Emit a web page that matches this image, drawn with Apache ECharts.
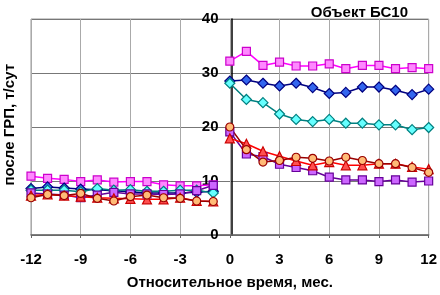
<!DOCTYPE html>
<html lang="ru">
<head>
    <meta charset="UTF-8">
    <title>Объект БС10</title>
    <style>
        html, body { margin: 0; padding: 0; background: #fff; }
    </style>
</head>
<body>
<script src="https://cdn.jsdelivr.net/npm/echarts@6/dist/echarts.min.js"></script>
<div id="main" style="width: 440px;height:295px;"></div>

<script>
    // месяцы до и после ГРП
    var preX = [-12, -11, -10, -9, -8, -7, -6, -5, -4, -3, -2, -1];
    var postX = [0, 1, 2, 3, 4, 5, 6, 7, 8, 9, 10, 11, 12];

    var pinkPre = [10.9, 10.5, 10.3, 9.9, 10.2, 9.8, 9.9, 9.9, 9.3, 9.1, 9.1, 9.3];
    var pinkPost = [32.2, 34.0, 31.4, 32.0, 31.3, 31.3, 31.7, 30.8, 31.4, 31.4, 30.8, 31.0, 30.8];

    var bluePre = [8.6, 8.9, 8.7, 8.5, 8.4, 8.2, 8.0, 7.8, 7.8, 7.8, 7.9, 8.1];
    var bluePost = [28.5, 28.7, 28.1, 27.6, 28.1, 27.3, 26.2, 26.4, 27.4, 27.4, 26.8, 26.0, 27.0];

    var tealPre = [8.3, 8.3, 8.3, 8.0, 8.6, 8.3, 8.4, 8.1, 8.1, 8.3, 8.3, 7.8];
    var tealPost = [28.1, 25.1, 24.5, 22.4, 21.4, 21.0, 21.4, 20.7, 20.7, 20.4, 20.4, 19.5, 19.9];

    var purplePre = [7.8, 7.6, 7.4, 6.9, 7.4, 7.9, 7.6, 7.6, 7.5, 7.6, 8.2, 9.2];
    var purplePost = [19.1, 15.0, 14.5, 13.1, 12.5, 11.9, 10.7, 10.2, 10.2, 9.9, 10.2, 9.8, 10.0];

    var orangePre = [6.9, 7.5, 7.3, 7.7, 6.8, 6.3, 7.1, 7.4, 6.9, 6.8, 6.3, 6.2];
    var orangePost = [20.0, 15.8, 13.5, 13.8, 14.4, 14.2, 13.7, 14.4, 13.8, 13.2, 13.2, 12.5, 11.6];

    var redPre = [7.3, 7.5, 7.3, 7.1, 6.9, 6.8, 6.7, 6.6, 6.6, 6.9, 6.3, 6.2];
    var redPost = [17.9, 16.9, 15.5, 14.6, 13.7, 12.9, 13.5, 12.9, 12.9, 13.2, 13.2, 12.6, 12.2];

    var xTicks = [-12, -9, -6, -3, 0, 3, 6, 9, 12];
    var yTicks = [0, 10, 20, 30, 40];

    function pairs(pre, post) {
        var d = [];
        for (var i = 0; i < preX.length; i++) d.push([preX[i], pre[i]]);
        d.push([-0.5, '-']); // разрыв между периодами
        for (var j = 0; j < postX.length; j++) d.push([postX[j], post[j]]);
        return d;
    }

    function line(name, pre, post, symbol, size, lineColor, fill, border) {
        return {
            name: name,
            type: 'line',
            data: pairs(pre, post),
            symbol: symbol,
            symbolSize: size,
            showAllSymbol: true,
            connectNulls: false,
            lineStyle: { color: lineColor, width: 1.5 },
            itemStyle: { color: fill, borderColor: border, borderWidth: 1.2 },
            emphasis: { disabled: true }
        };
    }

    var gridLeft = 31, gridRight = 8;
    var plotW = 440 - gridLeft - gridRight;

    var myChart = echarts.init(document.getElementById('main'));

    var option = {
        animation: false,
        textStyle: { fontFamily: 'Liberation Sans, Arial, sans-serif' },
        title: {
            text: 'Объект БС10',
            right: 27,
            top: 0,
            textStyle: { fontSize: 15, fontWeight: 'bold', color: '#000' }
        },
        graphic: [{
            type: 'text',
            left: 2,
            top: 64,
            rotation: Math.PI / 2,
            style: {
                text: 'после ГРП, т/сут',
                font: 'bold 15px Liberation Sans, Arial, sans-serif',
                fill: '#000'
            }
        }],
        grid: { left: gridLeft, right: gridRight, top: 19, bottom: 54, show: true, borderColor: '#999', borderWidth: 1 },
        xAxis: {
            type: 'value',
            min: -12,
            max: 12,
            interval: 3,
            name: 'Относительное время, мес.',
            nameLocation: 'middle',
            nameGap: 40,
            nameTextStyle: { fontSize: 15, fontWeight: 'bold', color: '#000' },
            axisLine: { onZero: false, lineStyle: { color: '#666', width: 1.5 } },
            axisTick: { show: true, length: 3, lineStyle: { color: '#666' } },
            axisLabel: {
                fontSize: 15, fontWeight: 'bold', color: '#000', margin: 17,
                formatter: function (v) { return xTicks.indexOf(v) >= 0 ? String(v) : ''; }
            },
            splitLine: { show: true, lineStyle: { color: '#aaa', width: 1 } }
        },
        yAxis: {
            type: 'value',
            position: 'left',
            offset: -plotW / 2, // ось проходит через x = 0
            min: 0,
            max: 40,
            interval: 10,
            axisLine: { show: true, onZero: false, lineStyle: { color: '#000', width: 1.5 } },
            axisTick: { show: false },
            axisLabel: {
                fontSize: 15, fontWeight: 'bold', color: '#000', margin: 13,
                formatter: function (v) { return yTicks.indexOf(v) >= 0 ? String(v) : ''; }
            },
            splitLine: { show: true, lineStyle: { color: '#777', width: 1 } }
        },
        series: [
            line('pink', pinkPre, pinkPost, 'rect', 8, '#ff00ff', '#ff88ff', '#cc00cc'),
            line('blue', bluePre, bluePost, 'diamond', 10, '#000080', '#3366ee', '#000080'),
            line('teal', tealPre, tealPost, 'diamond', 10, '#008080', '#66ffff', '#008080'),
            line('purple', purplePre, purplePost, 'rect', 8, '#660099', '#cc66ff', '#660099'),
            line('red', redPre, redPost, 'triangle', 9, '#ff0000', '#ff5050', '#cc0000'),
            line('orange', orangePre, orangePost, 'circle', 8, '#990000', '#ffbb77', '#990000')
        ]
    };

    myChart.setOption(option);
</script>
</body>
</html>
